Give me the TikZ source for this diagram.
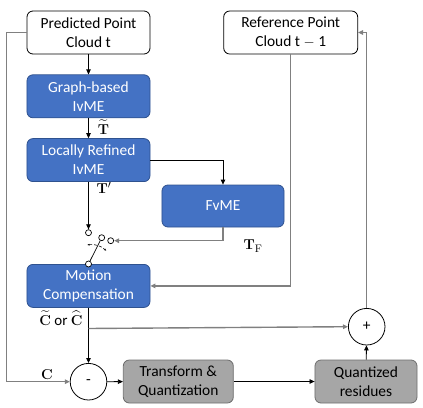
\documentclass[tikz,border=0pt]{standalone}
\usepackage{amsmath,amssymb}
\usepackage[no-math]{fontspec}
\setmainfont{Carlito}
\usetikzlibrary{arrows.meta,positioning,calc}
\definecolor{ivblue}{HTML}{4472C4}
\definecolor{ivborder}{HTML}{2F528F}
\definecolor{qgrey}{HTML}{A6A6A6}
\definecolor{qborder}{HTML}{6E6E6E}
\definecolor{wire}{HTML}{808080}
\tikzset{
  ar/.style={-{Triangle[length=5bp,width=4.5bp]}, line width=0.8pt, black},
  arg/.style={-{Triangle[length=5bp,width=4.5bp]}, line width=1.4pt, draw=wire}
}
\begin{document}
\begin{tikzpicture}[
  x=1bp, y=-1bp,
  font=\fontsize{15.5}{19}\selectfont,
  wbox/.style={rectangle, rounded corners=6bp, draw=black, line width=0.8pt, fill=white,
               align=center, inner sep=2bp, minimum width=123bp, minimum height=43bp},
  bbox/.style={wbox, draw=ivborder, fill=ivblue, text=white},
  gbox/.style={wbox, draw=qborder, fill=qgrey, text=black},
  sumc/.style={circle, draw=black, line width=0.8pt, fill=white, minimum size=36.6bp, inner sep=0pt},
  pin/.style={circle, draw=black, line width=0.7pt, fill=white, minimum size=6bp, inner sep=0pt},
  mlabel/.style={inner sep=1bp, font=\fontsize{15}{17}\selectfont}
]
\useasboundingbox (0,0) rectangle (423,408);
% ---- left column ----
\node[wbox] (pred) at (88.5,32.5) {Predicted Point\\Cloud t};
\node[bbox, below=20bp of pred] (gbm) {Graph-based\\IvME};
\node[bbox, below=20bp of gbm] (lrm) {Locally Refined\\IvME};
\node[bbox, below=82bp of lrm] (mc) {Motion\\Compensation};
% ---- right side ----
\node[wbox, minimum width=134bp] (ref) at (290.7,32.5) {Reference Point\\Cloud t $-$ 1};
\node[bbox, minimum width=122bp, minimum height=42bp] (fvme) at (223,206) {FvME};
% ---- bottom row ----
\node[sumc] (minus) at (88.5,381.7) {-};
\node[sumc] (plus) at (366.7,326.7) {+};
\node[gbox, minimum width=110bp] (tq) at (178.3,381.5) {Transform \&\\Quantization};
\node[gbox, minimum width=102bp] (qr) at (366,381.5) {Quantized\\residues};
% ---- switch ----
\node[pin] (s1) at ($(lrm.south)+(0,50.7)$) {};
\node[pin] (s2) at (101.7,237.7) {};
\node[pin] (s3) at (110.7,240.7) {};
\node[pin] (s0) at (mc.north) {};
\draw[line width=0.7pt] (s0) -- (s2);
\coordinate (d1) at (87,245);
\coordinate (d2) at (106.5,251);
\draw[densely dashed, line width=0.6pt, {Latex[length=2.5bp]}-{Latex[length=2.5bp]}] (d1) to[bend left=25] (d2);
% ---- arrows ----
\draw[ar] (pred) -- (gbm);
\draw[ar] (gbm) -- (lrm);
\draw[ar] (lrm.south) -- (s1.north);
\draw[ar] (lrm.east) -| (fvme.north);
\draw[arg] (fvme.south) |- (s3.east);
\draw[arg] (ref.south) |- (mc.east);
\draw[ar] (mc.south) -- (minus.north);
\coordinate (br) at ($(mc.south)+(0,20.7)$);
\draw[arg] (br) -- (plus.west);
\draw[arg] (pred.west) -- ++(-20,0) |- (minus.west);
\draw[ar] (minus) -- (tq);
\draw[ar] (tq) -- (qr);
\draw[ar] (qr) -- (plus);
\draw[arg] (plus.north) |- (ref.east);
% ---- labels ----
\node[mlabel] (lt) at (103.5,127) {$\widetilde{\mathbf{T}}$};
\node[mlabel] (lp) at (104,188) {$\mathbf{T}'$};
\node[mlabel] (lf) at (253,246) {$\mathbf{T}_{\mathrm{F}}$};
\node[mlabel] (lc) at (61,318) {$\widetilde{\mathbf{C}}$ or $\widehat{\mathbf{C}}$};
\node[mlabel] (lx) at (47,375) {$\mathbf{C}$};
\end{tikzpicture}
\end{document}
